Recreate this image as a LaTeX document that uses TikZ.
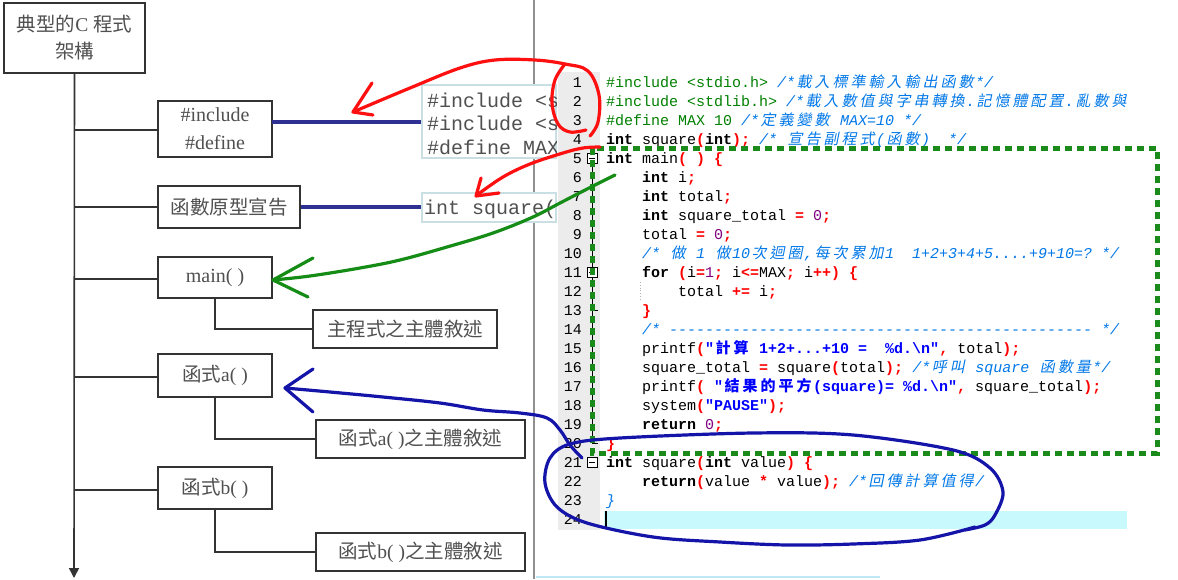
\documentclass[tikz,border=0pt]{standalone}
\usepackage{fontspec}
\setmainfont{Liberation Serif}
\setmonofont{Liberation Mono}
\newfontfamily\cjkfont[AutoFakeSlant=0.2]{Noto Sans CJK TC}
\usetikzlibrary{arrows.meta}
\definecolor{treegray}{HTML}{505050}
\definecolor{boxline}{HTML}{333333}
\definecolor{navyline}{HTML}{2E3192}
\definecolor{sepgray}{HTML}{909090}
\definecolor{snipline}{HTML}{CADFE4}
\definecolor{gutter}{HTML}{ECECEC}
\definecolor{curline}{HTML}{C8FAFD}
\definecolor{opred}{HTML}{FF0000}
\definecolor{numc}{HTML}{800080}
\definecolor{strc}{HTML}{0000FF}
\definecolor{cmc}{HTML}{0078E8}
\definecolor{ppc}{HTML}{008000}
\definecolor{penred}{HTML}{FF1010}
\definecolor{pengreen}{HTML}{158C15}
\definecolor{penblue}{HTML}{1414A8}
\definecolor{dashgreen}{HTML}{1A8A1A}
\definecolor{bottomline}{HTML}{BFE8F5}
\def\cjloop#1{\ifx\relax#1\else\makebox[18pt]{\cjkfont#1}\expandafter\cjloop\fi}
\newcommand\cj[1]{\cjloop#1\relax}
\newcommand\kw[1]{\textbf{#1}}
\newcommand\op[1]{\textcolor{opred}{\textbf{#1}}}
\newcommand\nm[1]{\textcolor{numc}{#1}}
\newcommand\st[1]{\textcolor{strc}{\textbf{#1}}}
\newcommand\cm[1]{\textcolor{cmc}{\itshape #1}}
\newcommand\pp[1]{\textcolor{ppc}{#1}}
\newcommand\cjt[1]{{\cjkfont #1}}
\tikzset{
  treebox/.style={draw=boxline, line width=1.6pt, fill=white, inner sep=0pt, text=treegray,
    font=\fontsize{19.5}{27}\selectfont, align=center},
  treeline/.style={draw=boxline, line width=1.6pt},
  navy/.style={draw=navyline, line width=4pt},
  snipbox/.style={draw=snipline, line width=1.4pt, fill=white, inner sep=0pt},
  snipfont/.style={inner sep=0pt, text=treegray, font=\ttfamily\fontsize{20}{23}\selectfont},
  codefont/.style={inner sep=0pt, font=\ttfamily\fontsize{15}{19}\selectfont},
  pen/.style={line width=3.2pt, line cap=round, line join=round},
  greendash/.style={draw=dashgreen, line width=5pt, dash pattern=on 7pt off 5pt}
}
\newcommand\codeline[3]{\node[codefont, anchor=base west] (L#1) at ({606+9*#2}, {87+19.04*(#1-1)}) {#3};}
\begin{document}
\begin{tikzpicture}[x=1pt,y=-1pt]
\useasboundingbox (0,0) rectangle (1178,579);
\fill[white] (0,0) rectangle (1178,579);

% separator of left panel
\draw[sepgray, line width=2pt] (534,0) -- (534,579);
\draw[bottomline, line width=2pt] (536,577) -- (880,577);

% ---------- left tree ----------
\node[treebox, minimum width=141pt, minimum height=70pt] (title) at (74.5,38)
  {\cjt{典型的}C \cjt{程式}\\\cjt{架構}};
\node[treebox, minimum width=114pt, minimum height=56pt, font=\fontsize{20}{28}\selectfont] (inc) at (215,129) {\#include\\\#define};
\node[treebox, minimum width=142pt, minimum height=42pt] (proto) at (229,207) {\cjt{函數原型宣告}};
\node[treebox, minimum width=114pt, minimum height=41pt, font=\fontsize{20}{27}\selectfont] (mainf) at (215,277.5) {main( )};
\node[treebox, minimum width=184pt, minimum height=38pt] (mainbody) at (405,329) {\cjt{主程式之主體敘述}};
\node[treebox, minimum width=114pt, minimum height=43pt] (fa) at (215,375.5) {\cjt{函式}a( )};
\node[treebox, minimum width=209pt, minimum height=38pt] (fabody) at (420.5,439) {\cjt{函式}a( )\cjt{之主體敘述}};
\node[treebox, minimum width=114pt, minimum height=42pt] (fb) at (215,488) {\cjt{函式}b( )};
\node[treebox, minimum width=209pt, minimum height=38pt] (fbbody) at (420.5,552) {\cjt{函式}b( )\cjt{之主體敘述}};

\coordinate (trunkend) at (74,578);
\coordinate (b1) at (74,130);
\coordinate (b2) at (74,207);
\coordinate (b3) at (74,279);
\coordinate (b4) at (74,377);
\coordinate (b5) at (74,490);
\draw[treeline, -{Triangle[width=10pt,length=10pt]}] (title.south) -- (trunkend);
\draw[treeline] (b1) -- (inc.west |- b1);
\draw[treeline] (b2) -- (proto.west |- b2);
\draw[treeline] (b3) -- (mainf.west |- b3);
\draw[treeline] (b4) -- (fa.west |- b4);
\draw[treeline] (b5) -- (fb.west |- b5);
\draw[treeline] (mainf.south) |- (mainbody.west);
\draw[treeline] (fa.south) |- (fabody.west);
\draw[treeline] (fb.south) |- (fbbody.west);

% ---------- snippets ----------
\node[snipbox, minimum width=134pt, minimum height=73pt] (snipA) at (489,121.5) {};
\node[snipbox, minimum width=134pt, minimum height=29pt] (snipB) at (489,207.5) {};
\begin{scope}
\clip (snipA.south west) rectangle (snipA.north east);
\node[snipfont, anchor=base west] (sa1) at (427,107) {\#include <s};
\node[snipfont, anchor=base west] (sa2) at (427,130) {\#include <s};
\node[snipfont, anchor=base west] (sa3) at (427,154) {\#define MAX};
\end{scope}
\begin{scope}
\clip (snipB.south west) rectangle (snipB.north east);
\node[snipfont, anchor=base west] (sb1) at (424,214) {int square(};
\end{scope}
\coordinate (c1) at (272,122);
\draw[navy] (c1) -- (snipA.west |- c1);
\draw[navy] (proto.east) -- (snipB.west |- proto.east);

% ---------- code editor ----------
\fill[gutter] (558,72) rectangle (600,530);
\fill[curline] (604,511) rectangle (1127,529);
\draw[black, line width=1.5pt] (606,511) -- (606,529);
\foreach \n in {1,...,24}{
  \node[codefont, anchor=base east] (n\n) at (582, {87+19.04*(\n-1)}) {\n};
}
% fold markers
\draw[black, line width=0.8pt] (592,163) -- (592,443.8);
\draw[black, line width=0.8pt] (592,310.5) -- (598,310.5);
\draw[black, line width=0.8pt] (592,443.8) -- (598,443.8);
\foreach \yy in {158,272.4,462.8}{
  \draw[black, line width=0.8pt, fill=white] (587,\yy-5) rectangle (597,\yy+5);
  \draw[black, line width=0.8pt] (589,\yy) -- (595,\yy);
}
\draw[gray!60, line width=0.8pt, dotted] (640,282) -- (640,300);

\codeline{1}{0}{\pp{\#include <stdio.h>} \cm{/*\cj{載入標準輸入輸出函數}*/}}
\codeline{2}{0}{\pp{\#include <stdlib.h>} \cm{/*\cj{載入數值與字串轉換}.\cj{記憶體配置}.\cj{亂數與}}}
\codeline{3}{0}{\pp{\#define MAX 10} \cm{/*\cj{定義變數} MAX=10 */}}
\codeline{4}{0}{\kw{int} square\op{(}\kw{int}\op{);} \cm{/* \cj{宣告副程式}(\cj{函數})~~*/}}
\codeline{5}{0}{\kw{int} main\op{(} \op{)} \op{\{}}
\codeline{6}{4}{\kw{int} i\op{;}}
\codeline{7}{4}{\kw{int} total\op{;}}
\codeline{8}{4}{\kw{int} square\_total \op{=} \nm{0}\op{;}}
\codeline{9}{4}{total \op{=} \nm{0}\op{;}}
\codeline{10}{4}{\cm{/* \cj{做} 1 \cj{做}10\cj{次迴圈},\cj{每次累加}1~~1+2+3+4+5....+9+10=? */}}
\codeline{11}{4}{\kw{for} \op{(}i\op{=}\nm{1}\op{;} i\op{<=}MAX\op{;} i\op{++)} \op{\{}}
\codeline{12}{8}{total \op{+=} i\op{;}}
\codeline{13}{4}{\op{\}}}
\codeline{14}{4}{\cm{/* ----------------------------------------------- */}}
\codeline{15}{4}{printf\op{(}\st{"\cj{計算} 1+2+...+10 =~~\%d.\textbackslash n"}\op{,} total\op{);}}
\codeline{16}{4}{square\_total \op{=} square\op{(}total\op{);} \cm{/*\cj{呼叫} square \cj{函數量}*/}}
\codeline{17}{4}{printf\op{(} \st{"\cj{結果的平方}(square)= \%d.\textbackslash n"}\op{,} square\_total\op{);}}
\codeline{18}{4}{system\op{(}\st{"PAUSE"}\op{);}}
\codeline{19}{4}{\kw{return} \nm{0}\op{;}}
\codeline{20}{0}{\op{\}}}
\codeline{21}{0}{\kw{int} square\op{(}\kw{int} value\op{)} \op{\{}}
\codeline{22}{4}{\kw{return}\op{(}value \op{*} value\op{);} \cm{/*\cj{回傳計算值得}/}}
\codeline{23}{0}{\cm{\}}}

% green dashed frame
\draw[greendash] (592,148) rectangle (1157,453);

% ---------- hand-drawn annotations ----------
\draw[pen, penred] plot[smooth, tension=0.6] coordinates {(353,112) (410,88) (460,68) (495,60) (535,60) (565,64) (588,71) (599,95) (598,122) (590,136)};
\draw[pen, penred] plot[smooth, tension=0.6] coordinates {(565,64) (555,80) (552,103) (558,124) (570,132) (586,130)};
\draw[pen, penred] (372,83) -- (353,112) -- (373,115);
\draw[pen, penred] plot[smooth, tension=0.6] coordinates {(600,147) (583,148) (563,153) (530,164) (503,177) (477,195)};
\draw[pen, penred] (481,178) -- (476,196) -- (499,193);

\draw[pen, pengreen] plot[smooth, tension=0.6] coordinates {(615,175) (593,186) (560,203) (533,217) (493,233) (447,247) (400,260) (360,268) (310,276) (273,280)};
\draw[pen, pengreen] (313,258) -- (273,280) -- (308,297);

\draw[pen, penblue] plot[smooth, tension=0.6] coordinates {(285,388) (330,392) (383,397) (440,403) (483,410) (520,413) (547,418) (560,430) (570,445) (582,458)};
\draw[pen, penblue] (313,369) -- (285,388) -- (313,412);
\draw[pen, penblue] plot[smooth, tension=0.55] coordinates {(975,527) (920,540) (853,544) (787,545) (720,542) (653,537) (587,523) (557,507) (545,483) (550,458) (570,444) (620,438) (753,433) (853,435) (953,450) (990,468) (1003,492) (995,515) (985,525) (965,530)};
\end{tikzpicture}
\end{document}
